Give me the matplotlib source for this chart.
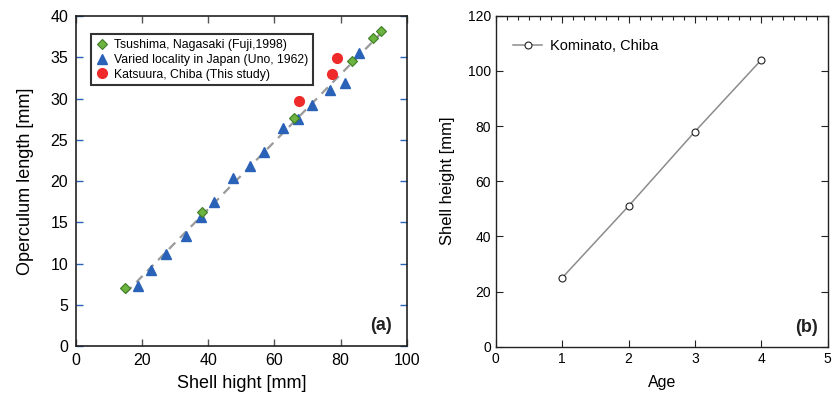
import matplotlib
matplotlib.use("Agg")
import matplotlib.pyplot as plt
import numpy as np

plt.rcParams["font.family"] = ["Liberation Sans", "DejaVu Sans"]

# (a) operculum length vs shell height
tsushima_x = [15.0, 38.1, 65.9, 83.5, 89.8, 92.1]
tsushima_y = [7.0, 16.3, 27.6, 34.6, 37.4, 38.2]

uno_x = [18.7, 22.8, 27.2, 33.2, 37.7, 41.9, 47.5, 52.6, 57.0, 62.6, 67.2, 71.4, 76.7, 81.3, 85.6]
uno_y = [7.3, 9.2, 11.1, 13.4, 15.7, 17.5, 20.4, 21.8, 23.5, 26.4, 27.5, 29.2, 31.0, 31.9, 35.5]

katsuura_x = [67.3, 77.3, 78.8]
katsuura_y = [29.7, 33.0, 34.9]

# (b) shell height by age
age = [1, 2, 3, 4]
shell_height = [25, 51, 78, 104]

fig = plt.figure(figsize=(8.32, 4.03), dpi=100)
ax1 = fig.add_axes([0.091, 0.1414, 0.398, 0.8186])
ax2 = fig.add_axes([0.596, 0.1397, 0.3988, 0.8213])

# regression line through the reference data
ref_x = np.array(tsushima_x + uno_x)
ref_y = np.array(tsushima_y + uno_y)
slope, icpt = np.polyfit(ref_x, ref_y, 1)
xl = np.array([ref_x.min(), ref_x.max()])
ax1.plot(xl, slope * xl + icpt, ls=(0, (4, 3)), color="#9a9a9a", lw=1.6, zorder=1)

ax1.plot(tsushima_x, tsushima_y, "D", ms=4.6, mfc="#6db33f", mec="#3f7d27", mew=0.8,
         label="Tsushima, Nagasaki (Fuji,1998)", zorder=3)
ax1.plot(uno_x, uno_y, "^", ms=7, mfc="#2a62b8", mec="#2a62b8",
         label="Varied locality in Japan (Uno, 1962)", zorder=2)
ax1.plot(katsuura_x, katsuura_y, "o", ms=7, mfc="#ee2a2a", mec="#ee2a2a",
         label="Katsuura, Chiba (This study)", zorder=4)

ax1.set_xlim(0, 100)
ax1.set_ylim(0, 40)
ax1.set_xticks(np.arange(0, 101, 20))
ax1.set_yticks(np.arange(0, 41, 5))
ax1.tick_params(axis="x", direction="in", length=5, width=1, color="#555555",
                top=True, labelsize=11.5, pad=5)
ax1.tick_params(axis="y", direction="in", length=5, width=1, color="#2a62b8",
                right=True, labelsize=11.5, pad=5.5)
for s in ax1.spines.values():
    s.set_color("#222222")
    s.set_linewidth(1.2)
ax1.set_xlabel("Shell hight [mm]", fontsize=13, labelpad=5)
ax1.set_ylabel("Operculum length [mm]", fontsize=13, labelpad=12)

leg = ax1.legend(loc="upper left", bbox_to_anchor=(0.046, 0.945), borderaxespad=0,
                 fontsize=8.8, frameon=True, fancybox=False, handlelength=1.0,
                 handletextpad=0.5, borderpad=0.4, labelspacing=0.22)
leg.get_frame().set_edgecolor("black")
leg.get_frame().set_linewidth(1.5)

ax1.text(0.955, 0.035, "(a)", transform=ax1.transAxes, ha="right", va="bottom",
         fontsize=13, fontweight="bold", color="#222222")

# (b)
ax2.plot(age, shell_height, "-o", color="#8c8c8c", lw=1.1, ms=5, mfc="white",
         mec="#222222", mew=0.8, label="Kominato, Chiba")
ax2.set_xlim(0, 5)
ax2.set_ylim(0, 120)
ax2.set_xticks(np.arange(0, 6, 1))
ax2.set_yticks(np.arange(0, 121, 20))
ax2.set_xticks(np.arange(0, 5.01, 1 / 6), minor=True)
ax2.tick_params(axis="both", which="major", direction="in", length=5, width=0.8,
                color="#222222", top=True, right=True, labelsize=10, pad=3.5)
ax2.tick_params(axis="x", which="minor", direction="in", length=3, width=0.8,
                color="#222222", top=True, bottom=False)
for s in ax2.spines.values():
    s.set_color("#222222")
    s.set_linewidth(1.0)
ax2.set_xlabel("Age", fontsize=11.5, labelpad=7)
ax2.set_ylabel("Shell height [mm]", fontsize=12, labelpad=9)
ax2.legend(loc="center left", bbox_to_anchor=(0.035, 0.908), frameon=False,
           fontsize=10.5, handlelength=2.0, handletextpad=0.5, borderaxespad=0)
ax2.text(0.971, 0.032, "(b)", transform=ax2.transAxes, ha="right", va="bottom",
         fontsize=13, fontweight="bold", color="#222222")

fig.savefig("out.png", dpi=100)
